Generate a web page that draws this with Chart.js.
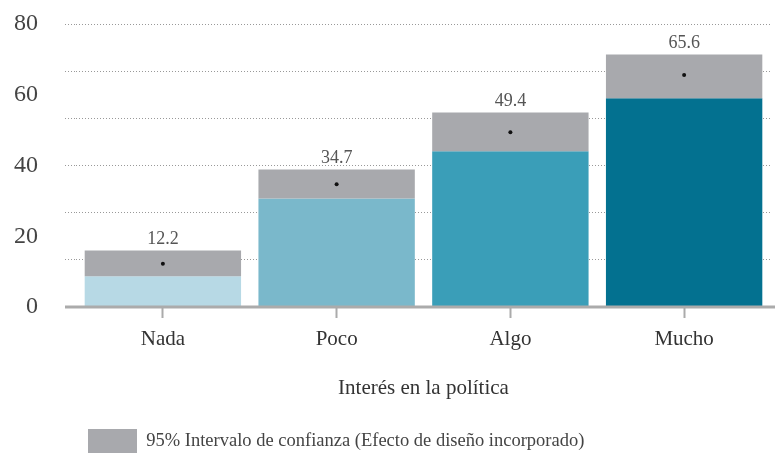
<!DOCTYPE html>
<html><head><meta charset="utf-8">
<script src="https://cdn.jsdelivr.net/npm/chart.js@4"></script>
<style>html,body{margin:0;padding:0;background:#fff}</style>
</head><body>
<canvas id="c" width="775" height="453"></canvas>
<script>
const categories = ['Nada', 'Poco', 'Algo', 'Mucho'];
const means = [12.2, 34.7, 49.4, 65.6];
const ciLower = [8.7, 30.7, 44.0, 59.0];
const ciUpper = [16.0, 38.9, 55.0, 71.4];
const yTickLabels = [0, 20, 40, 60, 80];
const gridValues = [13.33, 26.67, 40, 53.33, 66.67, 80];
const legendLabel = '95% Intervalo de confianza (Efecto de diseño incorporado)';
const xTitle = 'Interés en la política';

const barColors = ['#b7d9e5', '#7ab8cb', '#3a9eb8', '#037190'];
const ciColor = '#a8a9ad';
const FONT = "'Liberation Serif', 'Times New Roman', serif";
Chart.defaults.font.family = FONT;

const valueLabels = {
  id: 'valueLabels',
  afterDatasetsDraw(chart) {
    const {ctx, scales: {x, y}} = chart;
    const y0 = y.getPixelForValue(0);
    ctx.save();
    ctx.strokeStyle = '#ababab';
    ctx.lineWidth = 3;
    ctx.beginPath();
    ctx.moveTo(chart.scales.y2.left, y0);
    ctx.lineTo(chart.width, y0);
    ctx.stroke();
    ctx.font = '18px ' + FONT;
    ctx.fillStyle = '#555';
    ctx.textAlign = 'center';
    ctx.textBaseline = 'middle';
    means.forEach((m, i) => {
      ctx.fillText(m.toFixed(1), x.getPixelForValue(i), y.getPixelForValue(ciUpper[i]) - 11);
    });
    ctx.restore();
  }
};

const legendShift = {
  id: 'legendShift',
  afterLayout(chart) {
    const lg = chart.legend;
    if (!lg || !lg.lineWidths) return;
    const pad = lg.options.labels.padding;
    const w = lg.lineWidths[0];
    lg.right = 2 * 88 - lg.left - pad + w;
    lg.top += 11; lg.bottom += 11;
  }
};

new Chart(document.getElementById('c'), {
  data: {
    labels: categories,
    datasets: [
      {
        type: 'line',
        label: 'media',
        data: means,
        showLine: false,
        pointRadius: 2,
        pointHoverRadius: 2,
        pointBackgroundColor: '#111',
        pointBorderWidth: 0,
        borderWidth: 0,
        order: 0
      },
      {
        type: 'bar',
        label: legendLabel,
        data: ciLower.map((l, i) => [l, ciUpper[i]]),
        backgroundColor: ciColor,
        borderWidth: 0,
        grouped: false,
        barPercentage: 0.9,
        categoryPercentage: 1,
        order: 1
      },
      {
        type: 'bar',
        label: 'base',
        data: ciLower,
        backgroundColor: barColors,
        borderWidth: 0,
        grouped: false,
        barPercentage: 0.9,
        categoryPercentage: 1,
        order: 2
      }
    ]
  },
  options: {
    responsive: false,
    animation: false,
    layout: {padding: {top: 24, right: 4, left: 0, bottom: 0}},
    plugins: {
      tooltip: {enabled: false},
      legend: {
        position: 'bottom',
        labels: {
          filter: (item) => item.datasetIndex === 1,
          boxWidth: 49,
          boxHeight: 25,
          padding: 10,
          color: '#444',
          font: {size: 18.5, family: FONT}
        }
      }
    },
    scales: {
      x: {
        offset: true,
        grid: {display: true, drawOnChartArea: false, offset: false, tickLength: 11, tickColor: '#ababab', tickWidth: 2},
        border: {display: false},
        ticks: {color: '#333', font: {size: 21}, padding: 9},
        title: {display: true, text: xTitle, color: '#333', font: {size: 21}, padding: {top: 0, bottom: 7}},
        afterFit(s) { s.height = 101; s.paddingLeft = 0; s.paddingRight = 0; }
      },
      y: {
        position: 'left',
        weight: 1,
        min: 0, max: 80,
        afterBuildTicks(s) { s.ticks = yTickLabels.map(v => ({value: v})); },
        grid: {display: false, drawTicks: false},
        border: {display: false},
        ticks: {color: '#444', font: {size: 24}, padding: 27},
        afterFit(s) { s.width = 65; s.paddingTop = 0; s.paddingBottom = 0; }
      },
      y2: {
        position: 'left',
        weight: 0,
        min: 0, max: 80,
        afterBuildTicks(s) { s.ticks = gridValues.map(v => ({value: v})); },
        grid: {display: true, color: '#999', lineWidth: 1, tickLength: 11, drawTicks: true, tickBorderDash: [1, 2]},
        border: {display: false, dash: [1, 2]},
        ticks: {display: false},
        afterFit(s) { s.width = 11; s.paddingTop = 0; s.paddingBottom = 0; }
      }
    }
  },
  plugins: [valueLabels, legendShift]
});
</script>
</body></html>
